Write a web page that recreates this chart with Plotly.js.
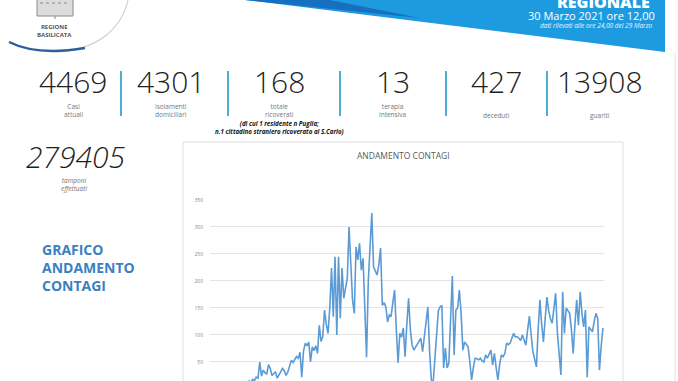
<!DOCTYPE html>
<html><head><meta charset="utf-8">
<script src="https://cdn.plot.ly/plotly-3.0.1.min.js"></script>
<style>html,body{margin:0;padding:0;background:#fff;overflow:hidden}#c{width:678px;height:381px}</style>
</head><body><div id="c"></div>
<script>
// ---- DATA ----
const contagi = [
  4,6,3,8,10,7,12,9,11,8,13,15,12,18,16,22,20,50,24,35,
  30,28,45,38,25,29,32,20,26,33,38,34,25,31,44,53,49,56,60,57,
  68,22,70,85,80,87,50,78,71,80,66,118,88,97,146,120,103,150,224,134,
  245,100,245,131,224,168,185,205,300,240,165,140,263,239,270,220,242,150,59,200,
  280,326,226,218,211,230,261,155,160,152,124,137,134,160,183,110,48,103,96,113,
  60,120,168,110,82,72,78,84,90,94,69,100,130,152,70,17,10,60,110,145,
  152,155,39,76,39,48,130,209,63,146,150,183,140,72,87,82,78,50,17,40,
  57,56,54,57,52,50,63,57,65,72,44,66,40,17,45,63,60,66,85,82,
  85,93,103,96,97,94,90,100,88,81,110,135,100,69,55,41,110,165,120,87,
  130,170,145,130,122,150,177,103,60,26,180,103,150,145,140,110,66,120,165,118,
  180,140,115,146,22,115,110,106,125,140,131,35,80,113
];
const yTicks = [0,50,100,150,200,250,300,350];
const chartTitle = 'ANDAMENTO CONTAGI';
const statValues = ['4469','4301','168','13','427','13908'];
const statLabels = [['Casi','attuali'],['isolamenti','domiciliari'],['totale','ricoverati'],['terapia','intensiva'],['deceduti'],['guariti']];
const ricoveratiNote = ['(di cui 1 residente n Puglia;','n.1 cittadino straniero ricoverato al S.Carlo)'];
const tamponiValue = '279405';
const tamponiLabel = ['tamponi','effettuati'];
const sideTitle = ['GRAFICO','ANDAMENTO','CONTAGI'];
const headerTexts = ['REGIONALE','30 Marzo 2021 ore 12,00','dati rilevati alle ore 24,00 del 29 Marzo'];
const logoTexts = ['REGIONE','BASILICATA'];

// ---- LAYOUT (pixel positions) ----
const W = 678, H = 381;
const statX = [73,171,279,393,496,600];
const sepX = [121,228,340,446,547];
const anns = [];
const shapes = [];
const F = (size, color, extra={}) => Object.assign({family:'Open Sans, sans-serif', size, color}, extra);
const A = (text, x, y, font, opt={}) => anns.push(Object.assign({
  text, x, y, xref:'x2', yref:'y2', showarrow:false, xanchor:'center', yanchor:'middle', font
}, opt));

// header banner
shapes.push({type:'path', xref:'x2', yref:'y2', path:'M245,0 L665,0 L665,52 Z', fillcolor:'#1e9be0', line:{width:0}});
shapes.push({type:'path', xref:'x2', yref:'y2', path:'M245,0 L330,0 L420,18 L400,16 Z', fillcolor:'#1670bf', line:{width:0}});
A(headerTexts[0], 652, 2, F(16,'#fff',{weight:800}), {xanchor:'right'});
A(headerTexts[1], 657, 15.5, F(11,'#fff'), {xanchor:'right'});
A('<i>'+headerTexts[2]+'</i>', 655, 25.5, F(6.5,'#e8f4fc'), {xanchor:'right'});

// logo
shapes.push({type:'path', xref:'x2', yref:'y2', path:'M128,0 C121,30 97,50 55,52', line:{color:'#c8ccd2', width:1.1}});
shapes.push({type:'path', xref:'x2', yref:'y2', path:'M9,42 C25,50 50,54 85,48', line:{color:'#2b5f9e', width:2.5}});
shapes.push({type:'rect', xref:'x2', yref:'y2', x0:37, x1:73, y0:-4, y1:16, fillcolor:'#dcdcdc', line:{color:'#8a8a8a', width:1}});
shapes.push({type:'line', xref:'x2', yref:'y2', x0:40, x1:70, y0:3, y1:3, line:{color:'#8a8a8a', width:1, dash:'dot'}});
shapes.push({type:'line', xref:'x2', yref:'y2', x0:55, x1:55, y0:16, y1:19, line:{color:'#8a8a8a', width:1}});
A(logoTexts.join('<br>'), 54, 31, F(6,'#555',{weight:700}));

// right border
shapes.push({type:'line', xref:'x2', yref:'y2', x0:675, x1:675, y0:52, y1:381, line:{color:'#e4e4e4', width:1}});

// stats
statValues.forEach((v,i)=>{
  A(v, statX[i], 81, F(30,'#1e1e1e',{weight:300}));
  const lab = statLabels[i];
  A(lab.join('<br>'), statX[i], lab.length===1 ? 115 : 110, F(6.5,'#777'));
});
sepX.forEach(x=>shapes.push({type:'line', xref:'x2', yref:'y2', x0:x, x1:x, y0:71, y1:116, line:{color:'#4faed4', width:2}}));
A('<b><i>'+ricoveratiNote[0]+'<br>'+ricoveratiNote[1]+'</i></b>', 279, 127.5, F(6.2,'#111'));

// tamponi
A('<i>'+tamponiValue+'</i>', 76, 156, F(30,'#1e1e1e',{weight:300}));
A('<i>'+tamponiLabel.join('<br>')+'</i>', 74, 184, F(6.5,'#777'));

// side title
A(sideTitle.join('<br>'), 40, 267, F(14,'#3a80c3',{weight:700}), {xanchor:'left', align:'left'});

// chart box
shapes.push({type:'rect', xref:'x2', yref:'y2', x0:183, x1:623, y0:142, y1:400, fillcolor:'rgba(0,0,0,0)', line:{color:'#dedede', width:1}});
A(chartTitle, 403, 155, F(8.5,'#595959'));

const trace = {
  y: contagi, type:'scatter', mode:'lines',
  line:{color:'#5b9bd5', width:1.6}, xaxis:'x', yaxis:'y', hoverinfo:'skip'
};
const dummy = {x:[0], y:[0], xaxis:'x2', yaxis:'y2', mode:'markers', marker:{opacity:0}, hoverinfo:'skip', showlegend:false};

const layout = {
  width:W, height:H, margin:{l:0,r:0,t:0,b:0},
  paper_bgcolor:'#fff', plot_bgcolor:'rgba(0,0,0,0)', showlegend:false,
  xaxis:{domain:[210/W, 604/W], range:[-11.4, 213.6], showticklabels:false, showgrid:false, zeroline:false, showline:false, ticks:'', fixedrange:true},
  yaxis:{domain:[0, 1-199.7/H], range:[14.8, 350.5], tickvals:yTicks, ticktext:yTicks.map(String),
         gridcolor:'#e4e4e4', gridwidth:1, zeroline:false, showline:false, ticks:'',
         tickfont:F(5,'#888'), ticklabelstandoff:6, fixedrange:true},
  xaxis2:{domain:[0,1], range:[0,W], visible:false, anchor:'y2', fixedrange:true},
  yaxis2:{domain:[0,1], range:[H,0], visible:false, anchor:'x2', fixedrange:true},
  shapes, annotations:anns
};
Plotly.newPlot('c', [trace, dummy], layout, {staticPlot:true, displayModeBar:false});
</script></body></html>
